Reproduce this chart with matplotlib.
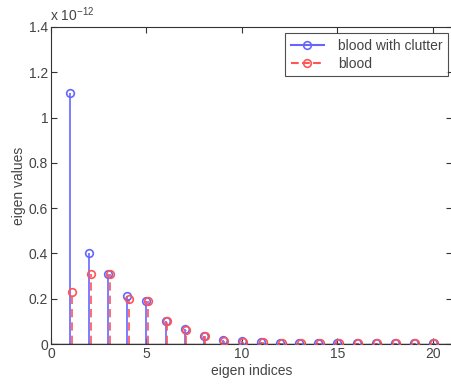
import matplotlib
matplotlib.use("Agg")
import matplotlib.pyplot as plt
from matplotlib.legend_handler import HandlerLine2D
import numpy as np

plt.rcParams['font.family'] = ['Liberation Sans', 'DejaVu Sans']
plt.rcParams['text.color'] = '#444444'
plt.rcParams['xtick.labelcolor'] = '#444444'
plt.rcParams['ytick.labelcolor'] = '#444444'
plt.rcParams['axes.labelcolor'] = '#444444'

indices = list(range(1, 21))
blood_with_clutter = [1.11, 0.40, 0.31, 0.21, 0.19, 0.10, 0.065, 0.036, 0.016, 0.012,
                      0.008, 0.004, 0.003, 0.003, 0.003, 0.003, 0.003, 0.003, 0.003, 0.003]
blood = [0.23, 0.31, 0.31, 0.20, 0.19, 0.10, 0.062, 0.034, 0.015, 0.010,
         0.007, 0.003, 0.003, 0.003, 0.003, 0.003, 0.003, 0.003, 0.003, 0.003]
scale = 1e-12

blue = '#6666ff'
red = '#ff5555'


class EndMarkerHandler(HandlerLine2D):
    def get_xdata(self, legend, xdescent, ydescent, width, height, fontsize):
        xdata = np.array([-xdescent, -xdescent + width * 0.85])
        return xdata, np.array([-xdescent + width * 0.85])


fig = plt.figure(figsize=(4.51, 3.89), dpi=100)
ax = fig.add_axes([51/451, 1-344/389, (452-51)/451, (344-27)/389])

x = np.array(indices, dtype=float)
yb = np.array(blood_with_clutter) * scale
yr = np.array(blood) * scale

ax.vlines(x, 0, yb, colors=blue, lw=1.2, zorder=2)
ax.plot(x, yb, 'o', mfc='none', mec=blue, ms=5.5, mew=1.2, zorder=3)
xr = x + 0.08
ax.vlines(xr, 0, yr, colors=red, lw=1.2, linestyles=(0, (5, 3)), zorder=2)
ax.plot(xr, yr, 'o', mfc='none', mec=red, ms=5.5, mew=1.2, zorder=3)
ax.axhline(0, color='#222222', lw=1.0, zorder=4)

h1, = ax.plot([], [], '-o', color=blue, mfc='none', ms=5.5, mew=1.2, label='blood with clutter')
h2, = ax.plot([], [], '--o', color=red, mfc='none', ms=5.5, mew=1.2, label='blood')
leg = ax.legend(loc='upper right', fontsize=10, frameon=True, fancybox=False,
                edgecolor='#222222', borderaxespad=0, handlelength=2.8,
                borderpad=0.4, labelspacing=0.3, handletextpad=0.6,
                handler_map={h1: EndMarkerHandler(), h2: EndMarkerHandler()},
                bbox_to_anchor=(448/451, 1-33/389), bbox_transform=fig.transFigure)
leg.get_frame().set_linewidth(0.8)

ax.set_xlim(0, 21)
ax.set_ylim(0, 1.4e-12)
ax.set_xticks([0, 5, 10, 15, 20])
yt = np.arange(0, 1.41, 0.2)
ax.set_yticks(yt * scale)
ax.set_yticklabels(['0', '0.2', '0.4', '0.6', '0.8', '1', '1.2', '1.4'])
ax.tick_params(direction='in', top=True, right=True, labelsize=10, length=4,
               color='#333333', pad=2)
for s in ax.spines.values():
    s.set_linewidth(0.8)
    s.set_color('#333333')
ax.set_xlabel('eigen indices', fontsize=10, labelpad=2)
ax.set_ylabel('eigen values', fontsize=10, labelpad=2)
fig.text(50/451, 1-24/389, r'x 10$^{\mathregular{-12}}$', fontsize=10, va='bottom', ha='left')

fig.savefig('out.png', dpi=100)
